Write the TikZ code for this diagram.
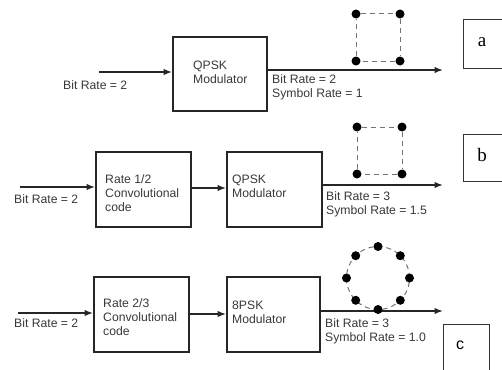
\documentclass[tikz,border=0pt]{standalone}
\usepackage{fontspec}
\setmainfont{Liberation Sans}
\newfontfamily\lserif{Liberation Serif}
\usetikzlibrary{arrows.meta,calc}
\begin{document}
\begin{tikzpicture}[x=1pt,y=-1pt,
  blk/.style={draw=black!85,line width=1.8pt,minimum width=#1,minimum height=75pt,inner sep=0pt},
  lbl/.style={font=\fontsize{12.2}{14}\selectfont,text=black!78,align=left,anchor=west,inner sep=0pt},
  tag/.style={draw=black!80,line width=1pt},
  arr/.style={line width=1.6pt,draw=black!85,-{Latex[length=8.5pt,width=6.5pt]}},
  dot/.style={circle,fill=black,inner sep=0pt,minimum size=9pt},
  dsh/.style={draw=black!55,line width=1pt,dash pattern=on 5pt off 4pt}]
\useasboundingbox (0,0) rectangle (502,369);

% ---------- row a ----------
\node[blk=94pt,minimum height=74pt] (qA) at (220,74) {};
\node[lbl] (tqA) at (193,72) {QPSK\\Modulator};
\coordinate (inA) at (99,72);
\draw[arr] (inA) -- (inA -| qA.west);
\node[lbl] (lA) at (63,85) {Bit Rate = 2};
\coordinate (oA) at (443,70);
\draw[arr] (oA -| qA.east) -- (oA);
\node[lbl] (rA) at (272,87) {Bit Rate = 2\\Symbol Rate = 1};
\node[dot] (a1) at (356,14) {};
\node[dot] (a2) at (400,14) {};
\node[dot] (a3) at (400,61) {};
\node[dot] (a4) at (356,61) {};
\draw[dsh] (a1) -- (a2) -- (a3) -- (a4) -- (a1);
\draw[tag] (504,20) -- (463,20) -- (463,68) -- (504,68);
\node[font=\lserif\fontsize{19}{19}\selectfont] (ta) at (482,42) {a};

% ---------- row b ----------
\node[blk=95pt] (cB) at (143.5,189.5) {};
\node[lbl] (tcB) at (105,193) {Rate 1/2\\Convolutional\\code};
\node[blk=95pt] (qB) at (274.5,189.5) {};
\node[lbl] (tqB) at (232,186) {QPSK\\Modulator};
\coordinate (inB) at (20,187);
\draw[arr] (inB) -- (inB -| cB.west);
\node[lbl] (lB) at (14,199) {Bit Rate = 2};
\draw[arr] (cB.east |- 0,188) -- (qB.west |- 0,188);
\coordinate (oB) at (443,185);
\draw[arr] (oB -| qB.east) -- (oB);
\node[lbl] (rB) at (326,204) {Bit Rate = 3\\Symbol Rate = 1.5};
\node[dot] (b1) at (357,127) {};
\node[dot] (b2) at (402,127) {};
\node[dot] (b3) at (402,174) {};
\node[dot] (b4) at (357,174) {};
\draw[dsh] (b1) -- (b2) -- (b3) -- (b4) -- (b1);
\draw[tag] (504,134) -- (463,134) -- (463,181) -- (504,181);
\node[font=\lserif\fontsize{19}{19}\selectfont] (tb) at (482,155) {b};

% ---------- row c ----------
\node[blk=95pt] (cC) at (141.5,314.5) {};
\node[lbl] (tcC) at (103,317) {Rate 2/3\\Convolutional\\code};
\node[blk=93pt] (qC) at (273.5,314.5) {};
\node[lbl] (tqC) at (232,312) {8PSK\\Modulator};
\coordinate (inC) at (18,313);
\draw[arr] (inC) -- (inC -| cC.west);
\node[lbl] (lC) at (14,323) {Bit Rate = 2};
\draw[arr] (cC.east |- 0,314) -- (qC.west |- 0,314);
\coordinate (oC) at (443,311);
\draw[arr] (oC -| qC.east) -- (oC);
\node[lbl] (rC) at (325,331) {Bit Rate = 3\\Symbol Rate = 1.0};
\coordinate (cc) at (378,278);
\draw[dsh] (cc) circle (31.5pt);
\foreach \k in {0,...,7}{
  \node[dot] (c\k) at ($(cc)+(\k*45:31.5pt)$) {};
}
\draw[tag] (443,371) -- (443,324) -- (489,324) -- (489,371);
\node[font=\fontsize{16}{16}\selectfont] (tc) at (460,345) {c};
\end{tikzpicture}
\end{document}
